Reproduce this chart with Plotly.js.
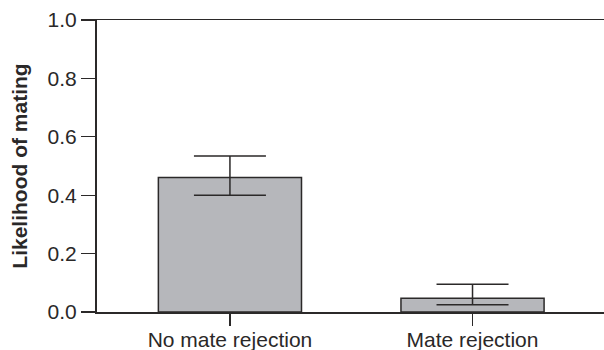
<!DOCTYPE html>
<html>
<head>
<meta charset="utf-8">
<script src="https://cdn.plot.ly/plotly-3.0.1.min.js"></script>
<style>html,body{margin:0;padding:0;background:#fff;}#chart{width:604px;height:350px;}</style>
</head>
<body>
<div id="chart"></div>
<script>
const categories = ["No mate rejection", "Mate rejection"];
const means = [0.461, 0.047];
const upper = [0.534, 0.095];
const lower = [0.400, 0.025];
const yTicks = [0, 0.2, 0.4, 0.6, 0.8, 1.0];
const yTickText = ["0.0", "0.2", "0.4", "0.6", "0.8", "1.0"];

const errPlus = means.map((m, i) => upper[i] - m);
const errMinus = means.map((m, i) => m - lower[i]);

const FONT = "Liberation Sans, Arial, sans-serif";
const INK = "#2b2929";
const TXT = "#2a2828";

const trace = {
  type: "bar",
  x: [0, 1],
  y: means,
  width: 0.59,
  marker: { color: "#b6b7bb", line: { color: INK, width: 1.5 } },
  error_y: {
    type: "data",
    symmetric: false,
    array: errPlus,
    arrayminus: errMinus,
    color: INK,
    thickness: 1.5,
    width: 36
  },
  hoverinfo: "none"
};

const layout = {
  width: 604,
  height: 350,
  margin: { l: 97, r: 0, t: 20, b: 38, pad: 0 },
  paper_bgcolor: "#fff",
  plot_bgcolor: "#fff",
  showlegend: false,
  font: { family: FONT, color: TXT, size: 21 },
  xaxis: {
    range: [-0.548, 1.542],
    tickvals: [0, 1],
    ticktext: categories,
    ticks: "outside",
    ticklen: 12,
    tickwidth: 1.3,
    tickcolor: INK,
    ticklabelstandoff: -4,
    showline: true,
    linecolor: INK,
    linewidth: 1.5,
    mirror: true,
    showgrid: false,
    zeroline: false,
    tickfont: { family: FONT, size: 21, color: TXT },
    fixedrange: true
  },
  yaxis: {
    range: [0, 1.0],
    tickvals: yTicks,
    ticktext: yTickText,
    ticks: "outside",
    ticklen: 14,
    tickwidth: 1.3,
    tickcolor: INK,
    ticklabelstandoff: 0,
    showline: true,
    linecolor: INK,
    linewidth: 2,
    showgrid: false,
    zeroline: false,
    tickfont: { family: FONT, size: 21, color: TXT },
    title: { text: "<b>Likelihood of mating</b>", font: { family: FONT, size: 21, color: TXT }, standoff: 14 },
    fixedrange: true
  }
};

Plotly.newPlot("chart", [trace], layout, { displayModeBar: false, staticPlot: true });
</script>
</body>
</html>
